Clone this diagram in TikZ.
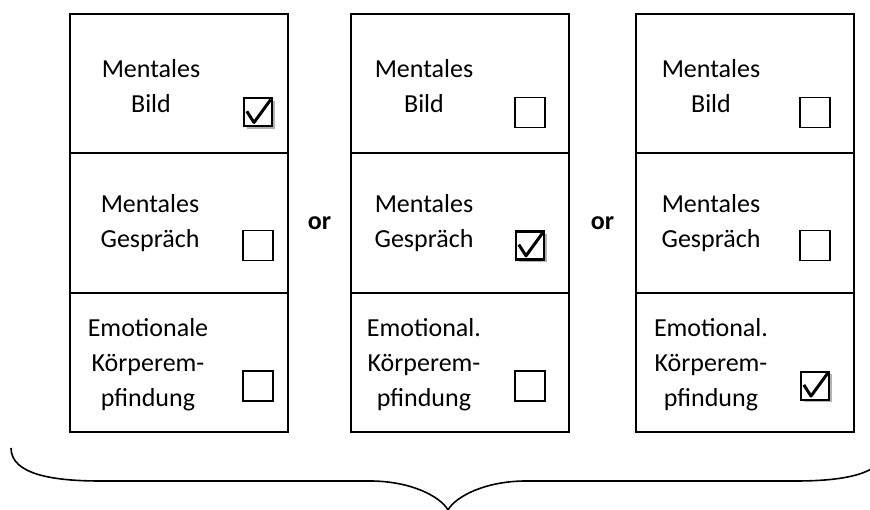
\documentclass[tikz,border=0pt]{standalone}
\usepackage{fontspec}
\setmainfont{Carlito}
\usetikzlibrary{positioning,calc,shadows}

\newcommand{\tickmark}[1]{%
  \draw[line width=3pt, line join=round]
    ([shift={(4pt,1pt)}]#1.west) -- ([shift={(-4pt,5pt)}]#1.south) -- ([shift={(-2.5pt,-2.5pt)}]#1.north east);}

\begin{document}
\begin{tikzpicture}[x=1pt,y=1pt,
  cell/.style={draw, line width=2pt, minimum width=218pt, minimum height=139.3pt, outer sep=0pt, inner sep=0pt},
  lbl/.style={align=center, font=\fontsize{26}{35}\selectfont, inner sep=0pt},
  orlbl/.style={font=\fontsize{26}{30}\selectfont\bfseries, inner sep=0pt},
  emptybox/.style={draw, line width=1.4pt, minimum size=30pt, inner sep=0pt},
  tickbox/.style={draw, line width=2.4pt, fill=white, minimum size=28pt, inner sep=0pt,
    drop shadow={shadow xshift=2.5pt, shadow yshift=-2.5pt, fill=gray!60, opacity=1}}]

\useasboundingbox (0,0) rectangle (870,510);

% COLUMNS

\node[cell, anchor=north west] (bild1) at (70,496) {};
\node[cell, below=0pt of bild1] (gespr1) {};
\node[cell, below=0pt of gespr1] (koerp1) {};

\node[cell, anchor=north west] (bild2) at (351,496) {};
\node[cell, below=0pt of bild2] (gespr2) {};
\node[cell, below=0pt of gespr2] (koerp2) {};

\node[cell, anchor=north west] (bild3) at (636,496) {};
\node[cell, below=0pt of bild3] (gespr3) {};
\node[cell, below=0pt of gespr3] (koerp3) {};

% TEXTS

\node[lbl] (txtbild1) at ([shift={(-28pt,-2pt)}]bild1.center) {Mentales\\Bild};
\node[lbl] (txtgespr1) at ([xshift=-29pt]gespr1.center) {Mentales\\Gespräch};
\node[lbl] (txtkoerp1) at ([shift={(-31pt,-2pt)}]koerp1.center) {Emotionale\\Körperem-\\pfindung};

\node[lbl] (txtbild2) at ([shift={(-36pt,-2pt)}]bild2.center) {Mentales\\Bild};
\node[lbl] (txtgespr2) at ([xshift=-36pt]gespr2.center) {Mentales\\Gespräch};
\node[lbl] (txtkoerp2) at ([shift={(-36pt,-2pt)}]koerp2.center) {Emotional.\\Körperem-\\pfindung};

\node[lbl] (txtbild3) at ([shift={(-34pt,-2pt)}]bild3.center) {Mentales\\Bild};
\node[lbl] (txtgespr3) at ([xshift=-34pt]gespr3.center) {Mentales\\Gespräch};
\node[lbl] (txtkoerp3) at ([shift={(-34pt,-2pt)}]koerp3.center) {Emotional.\\Körperem-\\pfindung};

\node[orlbl] (or1) at ($(gespr1.east)!0.5!(gespr2.west)$) {or};
\node[orlbl] (or2) at ($(gespr2.east)!0.5!(gespr3.west)$) {or};

% CHECKBOXES

\node[tickbox] (cbbild1) at ([shift={(-30pt,41pt)}]bild1.south east) {};
\tickmark{cbbild1}
\node[emptybox] (cbgespr1) at ([shift={(-30pt,47pt)}]gespr1.south east) {};
\node[emptybox] (cbkoerp1) at ([shift={(-30pt,46pt)}]koerp1.south east) {};

\node[emptybox] (cbbild2) at ([shift={(-39pt,41pt)}]bild2.south east) {};
\node[tickbox] (cbgespr2) at ([shift={(-39pt,47pt)}]gespr2.south east) {};
\tickmark{cbgespr2}
\node[emptybox] (cbkoerp2) at ([shift={(-39pt,46pt)}]koerp2.south east) {};

\node[emptybox] (cbbild3) at ([shift={(-39pt,41pt)}]bild3.south east) {};
\node[emptybox] (cbgespr3) at ([shift={(-39pt,47pt)}]gespr3.south east) {};
\node[tickbox] (cbkoerp3) at ([shift={(-39pt,46pt)}]koerp3.south east) {};
\tickmark{cbkoerp3}

% BRACE

\coordinate (bracetip) at (448,0);
\draw[line width=1.6pt] (11,62) .. controls (11,35) and (55,29) .. (100,29) -- (370,29)
  .. controls (410,29) and (440,14) .. (bracetip)
  .. controls (456,14) and (486,29) .. (526,29) -- (796,29)
  .. controls (841,29) and (885,35) .. (885,62);

\end{tikzpicture}
\end{document}
